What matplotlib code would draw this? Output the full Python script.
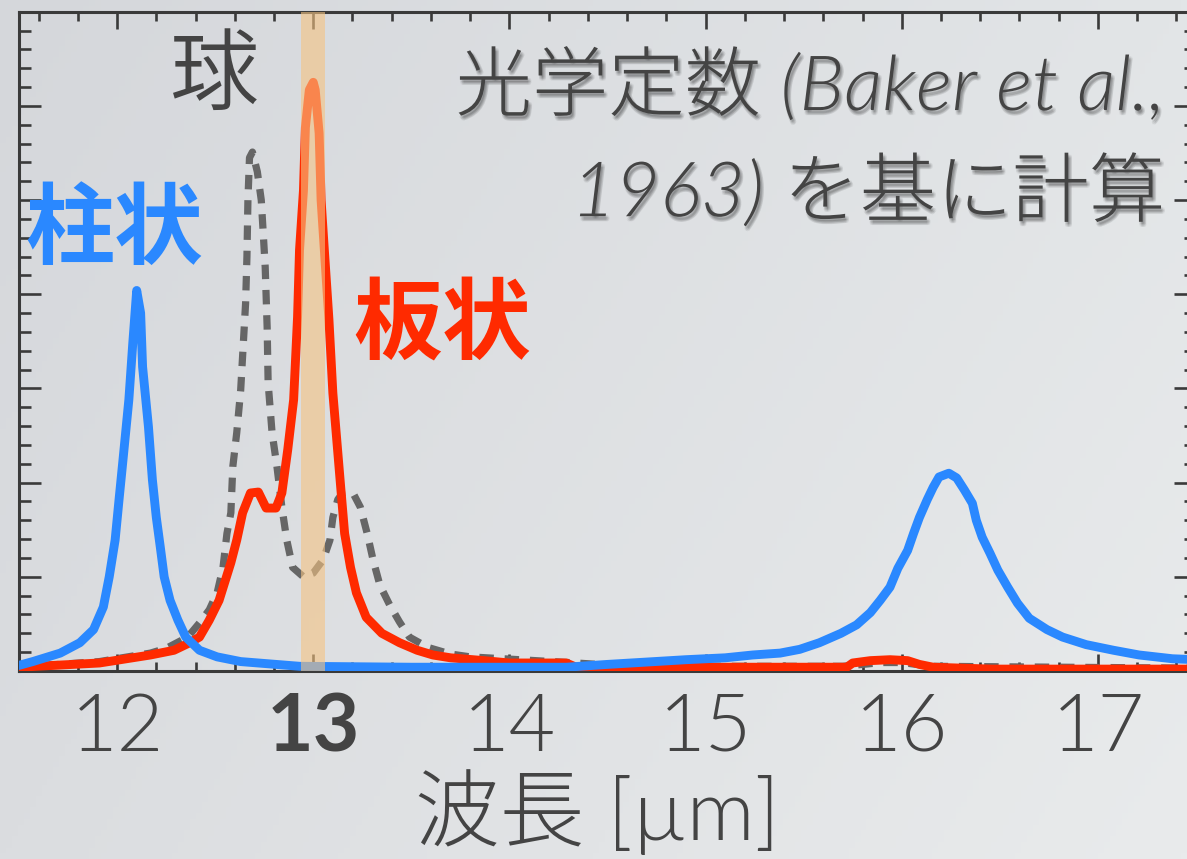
import numpy as np
import matplotlib
matplotlib.use("Agg")
import matplotlib.pyplot as plt
from matplotlib import patheffects as pe
from matplotlib.ticker import MultipleLocator

# Wavelength [µm] and relative absorption for each ice-crystal shape
column_wl = [11.50, 11.57, 11.71, 11.81, 11.88, 11.93, 11.96, 11.99, 12.01, 12.03,
             12.06, 12.08, 12.10, 12.12, 12.13, 12.16, 12.18, 12.20, 12.22, 12.24,
             12.27, 12.31, 12.35, 12.42, 12.51, 12.63, 12.93, 13.50, 14.29, 14.50,
             14.90, 15.10, 15.24, 15.38, 15.48, 15.58, 15.69, 15.77, 15.84, 15.89,
             15.94, 15.98, 16.03, 16.06, 16.09, 16.13, 16.16, 16.19, 16.24, 16.28,
             16.32, 16.36, 16.38, 16.41, 16.45, 16.49, 16.54, 16.59, 16.65, 16.74,
             16.82, 16.94, 17.08, 17.21, 17.38, 17.50]
column_val = [0.06, 0.10, 0.19, 0.30, 0.44, 0.68, 1.00, 1.39, 1.82, 2.24,
              2.88, 3.48, 4.04, 3.80, 3.23, 2.59, 2.03, 1.63, 1.32, 1.00,
              0.75, 0.54, 0.36, 0.22, 0.15, 0.10, 0.05, 0.04, 0.04, 0.07,
              0.12, 0.14, 0.17, 0.19, 0.23, 0.30, 0.40, 0.49, 0.62, 0.75,
              0.89, 1.09, 1.28, 1.46, 1.63, 1.82, 1.95, 2.06, 2.10, 2.05,
              1.92, 1.78, 1.60, 1.42, 1.25, 1.07, 0.89, 0.72, 0.56, 0.44,
              0.36, 0.28, 0.22, 0.17, 0.13, 0.12]

plate_wl = [11.50, 11.91, 12.17, 12.29, 12.37, 12.42, 12.47, 12.52, 12.58, 12.61,
            12.64, 12.68, 12.72, 12.76, 12.81, 12.84, 12.87, 12.90, 12.92, 12.93,
            12.95, 12.96, 12.98, 13.00, 13.01, 13.03, 13.04, 13.06, 13.08, 13.10,
            13.12, 13.14, 13.16, 13.19, 13.22, 13.27, 13.35, 13.44, 13.53, 13.61,
            13.70, 13.87, 14.00, 14.29, 14.34, 14.53, 14.94, 15.72, 15.75, 15.84,
            15.94, 16.03, 16.09, 16.16, 16.46, 17.50]
plate_val = [0.04, 0.085, 0.17, 0.22, 0.30, 0.36, 0.54, 0.75, 1.15, 1.39,
             1.68, 1.89, 1.90, 1.73, 1.73, 1.89, 2.35, 2.88, 3.76, 4.47,
             5.10, 5.77, 6.17, 6.25, 6.17, 5.71, 5.00, 4.36, 3.73, 2.95,
             2.45, 1.95, 1.46, 1.10, 0.83, 0.57, 0.40, 0.30, 0.22, 0.17,
             0.14, 0.11, 0.085, 0.085, 0.04, 0.03, 0.04, 0.04, 0.085, 0.11,
             0.12, 0.11, 0.07, 0.04, 0.02, 0.02]

sphere_wl = [11.50, 11.91, 12.17, 12.25, 12.36, 12.42, 12.47, 12.51, 12.54, 12.56,
             12.58, 12.59, 12.61, 12.63, 12.655, 12.662, 12.667, 12.675, 12.69, 12.715,
             12.735, 12.745, 12.755, 12.765, 12.77, 12.79, 12.815, 12.84, 12.865, 12.895,
             12.95, 13.00, 13.05, 13.085, 13.10, 13.125, 13.15, 13.20, 13.24, 13.275,
             13.305, 13.34, 13.39, 13.44, 13.49, 13.585, 13.70, 13.80, 14.05, 14.34,
             14.60, 15.70, 15.90, 16.00, 16.15, 17.50]
sphere_val = [0.04, 0.10, 0.19, 0.24, 0.36, 0.51, 0.65, 0.83, 1.10, 1.46,
              1.68, 2.17, 2.53, 2.98, 3.90, 4.40, 5.00, 5.45, 5.51, 5.30,
              5.00, 4.65, 4.29, 3.65, 3.06, 2.53, 2.17, 1.74, 1.39, 1.10,
              1.00, 1.04, 1.18, 1.39, 1.63, 1.82, 1.89, 1.90, 1.74, 1.46,
              1.18, 0.91, 0.70, 0.52, 0.36, 0.25, 0.18, 0.15, 0.12, 0.085,
              0.05, 0.05, 0.09, 0.09, 0.05, 0.03]

xtick_values = [12, 13, 14, 15, 16, 17]
xtick_labels = ["12", "13", "14", "15", "16", "17"]
highlight_band = (12.94, 13.06)

BLUE = "#2a88ff"
RED = "#ff2a00"
GRAY = "#666666"
INK = "#444444"
FRAME = "#3a3a3a"
LATIN_CJK = ["Lato", "Noto Sans CJK JP"]

W, H = 1187, 859
fig = plt.figure(figsize=(W / 100, H / 100), dpi=100)

# soft grey backdrop, darker at the upper left
bg = fig.add_axes([0, 0, 1, 1], zorder=-10)
tl = np.array([213, 215, 219]) / 255
bl = np.array([219, 221, 224]) / 255
tr = np.array([226, 229, 231]) / 255
br = np.array([233, 235, 236]) / 255
u = np.linspace(0, 1, 200)[None, :, None]
v = np.linspace(0, 1, 150)[:, None, None]
grad = (1 - v) * ((1 - u) * tl + u * tr) + v * ((1 - u) * bl + u * br)
bg.imshow(grad, extent=[0, 1, 0, 1], aspect="auto", origin="upper")
bg.axis("off")

def px(x, y):
    return x / W, 1 - y / H

ax = fig.add_axes([19 / W, 1 - 671 / H, 1177 / W, (671 - 11.7) / H])
ax.set_facecolor("none")

ax.plot(sphere_wl, sphere_val, color=GRAY, lw=5.2, dashes=(2.0, 1.5), zorder=3)
ax.plot(plate_wl, plate_val, color=RED, lw=6.4, zorder=4)
ax.plot(column_wl, column_val, color=BLUE, lw=6.4, zorder=5)
ax.axvspan(*highlight_band, color="#f5c382", alpha=0.6, lw=0, zorder=10)

ax.set_xlim(11.5, 17.5)
ax.set_ylim(0, 7)
ax.xaxis.set_minor_locator(MultipleLocator(0.2))
ax.yaxis.set_major_locator(MultipleLocator(1))
ax.yaxis.set_minor_locator(MultipleLocator(0.2))
ax.set_xticks(xtick_values, xtick_labels)
for lab in ax.get_xticklabels():
    lab.set_fontfamily("Lato")
    lab.set_fontsize(58)
    lab.set_fontweight(300)
    lab.set_color(INK)
ax.get_xticklabels()[1].set_fontweight("bold")

ax.tick_params(which="both", direction="in", top=True, right=True,
               labelleft=False, color=FRAME, width=1.9)
ax.tick_params(axis="x", which="major", length=12.2, pad=15)
ax.tick_params(axis="x", which="minor", length=6.5)
ax.tick_params(axis="y", which="major", length=15.8)
ax.tick_params(axis="y", which="minor", length=8.6)
for sp in ax.spines.values():
    sp.set_color(FRAME)
    sp.set_linewidth(2.2)

fig.text(*px(597, 812), "波長 [µm]", ha="center", va="center",
         fontsize=61, family=LATIN_CJK, weight=300, color=INK)

fig.text(*px(214, 78), "球", ha="center", va="center", fontsize=64,
         family="Noto Sans CJK JP", weight=350, color=INK)
fig.text(*px(114, 231), "柱状", ha="center", va="center", fontsize=64,
         family="Noto Sans CJK JP", weight="bold", color=BLUE)
fig.text(*px(442, 326), "板状", ha="center", va="center", fontsize=64,
         family="Noto Sans CJK JP", weight="bold", color=RED)

shadow = [pe.SimplePatchShadow(offset=(1.5 + dx, -2.5 + dy), shadow_rgbFace="k", alpha=0.05)
          for dx, dy in [(0, 0), (1.2, 0), (-1.2, 0), (0, 1.2), (0, -1.2),
                         (0.9, 0.9), (-0.9, -0.9), (0.9, -0.9), (-0.9, 0.9)]]
shadow.append(pe.Normal())
fig.text(*px(1165, 87), "光学定数 (Baker et al.,", ha="right", va="center",
         fontsize=55, family=LATIN_CJK, style="italic", weight=300, color=INK,
         path_effects=shadow)
fig.text(*px(1165, 193), "1963) を基に計算", ha="right", va="center",
         fontsize=55, family=LATIN_CJK, style="italic", weight=300, color=INK,
         path_effects=shadow)

fig.savefig("out.png", dpi=100)
